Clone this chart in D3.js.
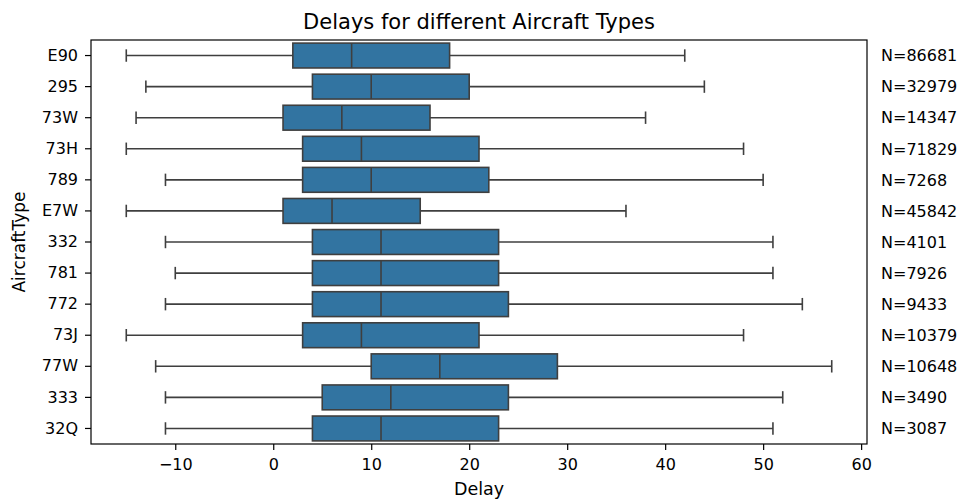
<!DOCTYPE html>
<html>
<head>
<meta charset="utf-8">
<script src="https://cdn.jsdelivr.net/npm/d3@7"></script>
<style>
  body { margin: 0; background: #fff; }
  text { font-family: "DejaVu Sans", sans-serif; fill: #000; }
</style>
</head>
<body>
<div id="chart"></div>
<script>
// data
let aircraftTypes = ["E90", "295", "73W", "73H", "789", "E7W", "332", "781", "772", "73J", "77W", "333", "32Q"];
let whiskerLow  = [-15, -13, -14, -15, -11, -15, -11, -10, -11, -15, -12, -11, -11];
let q1          = [2, 4, 1, 3, 3, 1, 4, 4, 4, 3, 10, 5, 4];
let medians     = [8, 10, 7, 9, 10, 6, 11, 11, 11, 9, 17, 12, 11];
let q3          = [18, 20, 16, 21, 22, 15, 23, 23, 24, 21, 29, 24, 23];
let whiskerHigh = [42, 44, 38, 48, 50, 36, 51, 51, 54, 48, 57, 52, 51];
let counts      = [86681, 32979, 14347, 71829, 7268, 45842, 4101, 7926, 9433, 10379, 10648, 3490, 3087];
let xTicks      = [-10, 0, 10, 20, 30, 40, 50, 60];

let boxes = aircraftTypes.map(function (t, i) {
    return {type: t, lo: whiskerLow[i], q1: q1[i], med: medians[i], q3: q3[i], hi: whiskerHigh[i], n: counts[i]};
});

let W = 970, H = 499;
let margin = {top: 40, right: 103, bottom: 55, left: 91};
let width = W - margin.left - margin.right,
    height = H - margin.top - margin.bottom;

let svg = d3.select("#chart").append("svg")
    .attr("width", W)
    .attr("height", H);

let g = svg.append("g")
    .attr("transform", "translate(" + margin.left + "," + margin.top + ")");

let x = d3.scaleLinear()
    .domain([-18.6, 60.6])
    .range([0, width]);

let y = d3.scaleBand()
    .domain(aircraftTypes)
    .range([0, height])
    .paddingInner(0.2)
    .paddingOuter(0.1);

let lineColor = "#3f3f3f";
let boxFill = "#3274a1";
let lw = 1.6;

let rows = g.selectAll(".row")
    .data(boxes)
    .enter().append("g")
    .attr("class", "row")
    .attr("transform", function (d) { return "translate(0," + y(d.type) + ")"; });

let bw = y.bandwidth();

// whiskers
rows.append("line")
    .attr("x1", function (d) { return x(d.lo); })
    .attr("x2", function (d) { return x(d.q1); })
    .attr("y1", bw / 2).attr("y2", bw / 2)
    .attr("stroke", lineColor).attr("stroke-width", lw);

rows.append("line")
    .attr("x1", function (d) { return x(d.q3); })
    .attr("x2", function (d) { return x(d.hi); })
    .attr("y1", bw / 2).attr("y2", bw / 2)
    .attr("stroke", lineColor).attr("stroke-width", lw);

// caps
rows.append("line")
    .attr("x1", function (d) { return x(d.lo); })
    .attr("x2", function (d) { return x(d.lo); })
    .attr("y1", bw / 4).attr("y2", bw * 3 / 4)
    .attr("stroke", lineColor).attr("stroke-width", lw);

rows.append("line")
    .attr("x1", function (d) { return x(d.hi); })
    .attr("x2", function (d) { return x(d.hi); })
    .attr("y1", bw / 4).attr("y2", bw * 3 / 4)
    .attr("stroke", lineColor).attr("stroke-width", lw);

// boxes
rows.append("rect")
    .attr("x", function (d) { return x(d.q1); })
    .attr("width", function (d) { return x(d.q3) - x(d.q1); })
    .attr("y", 0)
    .attr("height", bw)
    .attr("fill", boxFill)
    .attr("stroke", lineColor)
    .attr("stroke-width", lw);

// medians
rows.append("line")
    .attr("x1", function (d) { return x(d.med); })
    .attr("x2", function (d) { return x(d.med); })
    .attr("y1", 0).attr("y2", bw)
    .attr("stroke", lineColor).attr("stroke-width", lw);

// N= labels
rows.append("text")
    .attr("x", width + 14)
    .attr("y", bw / 2)
    .attr("dy", "0.36em")
    .style("font-size", "16px")
    .text(function (d) { return "N=" + d.n; });

// axes
let xAxis = d3.axisBottom(x).tickValues(xTicks).tickSize(6).tickPadding(9)
    .tickFormat(function (d) { return d < 0 ? "\u2212" + Math.abs(d) : d; });
let yAxis = d3.axisLeft(y).tickSize(6).tickPadding(7);

let gx = g.append("g")
    .attr("transform", "translate(0," + height + ")")
    .call(xAxis);
let gy = g.append("g").call(yAxis);

[gx, gy].forEach(function (ax) {
    ax.select(".domain").remove();
    ax.selectAll("line").attr("stroke", "#000").attr("stroke-width", 1.2);
    ax.selectAll("text").style("font-size", "16px").style("font-family", "DejaVu Sans");
});

// frame
g.append("rect")
    .attr("width", width)
    .attr("height", height)
    .attr("fill", "none")
    .attr("stroke", "#000")
    .attr("stroke-width", 1.2);

// title and labels
svg.append("text")
    .attr("x", margin.left + width / 2)
    .attr("y", 29)
    .attr("text-anchor", "middle")
    .style("font-size", "21px")
    .text("Delays for different Aircraft Types");

svg.append("text")
    .attr("x", margin.left + width / 2)
    .attr("y", 495)
    .attr("text-anchor", "middle")
    .style("font-size", "17.5px")
    .text("Delay");

svg.append("text")
    .attr("transform", "translate(25," + (margin.top + height / 2) + ") rotate(-90)")
    .attr("text-anchor", "middle")
    .style("font-size", "17px")
    .text("AircraftType");
</script>
</body>
</html>
